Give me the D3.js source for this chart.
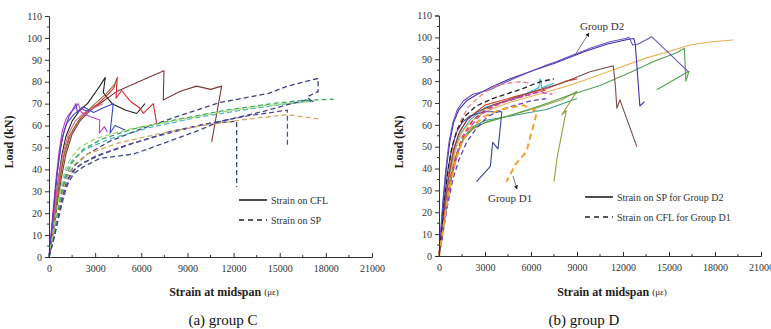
<!DOCTYPE html>
<html>
<head>
<meta charset="utf-8">
<script src="https://cdn.jsdelivr.net/npm/d3@7"></script>
<style>
  body { margin: 0; background: #fff; }
  svg { display: block; }
  svg text { font-family: "Liberation Serif", "Times New Roman", "DejaVu Serif", serif !important; }
</style>
</head>
<body>
<svg id="chart" width="771" height="329"></svg>
<script>
// tick values (shared by both panels)
const xTicks = [0, 3000, 6000, 9000, 12000, 15000, 18000, 21000];
const yTicks = [0, 10, 20, 30, 40, 50, 60, 70, 80, 90, 100, 110];

// ---- group C : strain on CFL (solid) ----
const cBlack = [[0,0],[150,8],[350,20],[600,35],[850,47],[1100,55],[1500,62],[2000,67],[2500,70],[2900,74],[3100,76],[3300,78],[3660,82],[3530,75],[4100,70],[5000,67],[5700,65.5],[6240,70]];
const cRed = [[0,0],[200,9],[450,22],[700,35],[1000,47],[1400,56],[2000,63],[2600,67],[3200,70],[3800,74],[4200,77],[4440,82],[4355,72.5],[4725,76],[5300,71],[5900,68],[6130,65.6],[6780,70],[7000,61]];
const cBrown = [[0,0],[250,10],[500,22],[800,36],[1100,47],[1500,56],[2000,62],[2700,67],[3500,71],[4400,75.5],[5500,79],[6500,82],[7475,85],[7430,71.7],[8500,75.5],[9600,78],[10500,76.5],[11225,78],[10575,52.5]];
const cMagenta = [[0,0],[100,8],[250,20],[450,35],[650,48],[850,57],[1100,63],[1400,66],[1700,68],[1900,70],[2100,66],[2700,64],[3300,62.5],[3270,56.5],[3600,59.5],[3800,57]];
const cBlue = [[0,0],[150,10],[350,25],[600,42],[850,54],[1150,61],[1600,65],[2230,68.6],[2900,66],[3500,68],[4180,70],[3965,56.5],[4290,60],[4940,58]];
const cViolet = [[0,0],[120,8],[300,22],[500,37],[750,50],[1000,58],[1300,64],[1600,68],[1750,70],[1850,66],[2100,68],[2300,67],[2600,66.5]];
const cOlive = [[0,0],[180,9],[400,21],[650,34],[950,46],[1300,55],[1800,61],[2400,66],[3000,70],[3800,75],[4400,80]];
const cPink = [[0,0],[160,9],[380,22],[620,36],[900,47],[1250,56],[1700,62],[2300,66],[2900,68],[3500,70]];

// ---- group C : strain on SP (dashed) ----
const cSpNavyTop = [[0,0],[200,7],[450,17],[700,26],[950,33],[1250,38],[1700,42],[2500,47],[4000,53],[6000,58.5],[8500,64.5],[11100,70.5],[14300,74.7],[15500,78],[17500,81.5],[17500,75.5],[16800,73.2],[17100,70]];
const cSpNavyDrop = [[0,0],[250,7],[500,16],[800,26],[1100,34],[1500,39],[2200,43],[3500,47],[5500,52],[8000,57.5],[10500,61],[12200,62],[12200,32]];
const cSpPurple = [[0,0],[300,8],[600,18],[900,28],[1300,36],[1800,41],[3000,46],[5000,51],[7500,56],[10000,60.5],[13000,64.5],[15500,67],[15500,50]];
const cSpGreen = [[0,0],[250,8],[500,18],[800,29],[1100,37],[1500,43],[2200,49],[3500,54],[5500,58.5],[8500,63],[11500,67],[14500,70],[16500,71.5],[18500,72]];
const cSpLightGreen = [[0,0],[200,8],[450,19],[750,31],[1050,40],[1400,45],[2000,50],[3000,54],[5000,58],[8000,62],[11000,66],[14000,69],[17000,71]];
const cSpCyan = [[0,0],[220,8],[480,19],[780,30],[1100,39],[1500,44],[2300,49],[4000,54],[6500,59],[9500,63.5],[12500,67],[15500,70],[17000,71]];
const cSpOrange = [[0,0],[250,8],[500,18],[800,28],[1150,36],[1600,42],[2500,47],[4500,52],[7000,56],[10000,60],[13000,63],[15500,65],[17500,63]];
const cSpNavyLow = [[0,0],[300,8],[600,17],[900,26],[1200,33],[1600,38],[2200,41],[3300,45],[5500,47],[7500,52],[9800,58],[11100,61.8],[13900,66.4],[15450,69.4],[16900,72],[17300,70.5]];

// ---- group D2 : strain on SP (solid) ----
const dPurple = [[0,0],[100,10],[250,25],[450,40],[650,52],[900,61],[1200,67],[1600,71],[2200,74],[3325,76],[4410,79.7],[5500,83],[7020,87.4],[7670,88.9],[9850,95],[11150,98],[12240,99.6],[12400,100],[12630,96.5],[13000,97],[13870,100.3],[16250,84.3]];
const dIndigo = [[0,0],[120,10],[280,25],[480,40],[700,52],[950,61],[1300,67],[1800,71],[2500,74],[3500,77.5],[4600,81],[6000,84.5],[7500,88],[9500,93.5],[11000,97],[12300,99],[12700,99.5],[12800,97],[13100,68.6],[13400,70.6]];
const dNavy = [[0,0],[150,10],[350,25],[550,38],[800,48],[1100,56],[1500,61],[2000,64],[3000,66],[4100,66],[3850,49],[3500,52],[3350,41],[2450,34]];
const dBrown = [[0,0],[180,10],[400,24],[650,37],[950,48],[1300,56],[1800,62],[2500,66],[3500,69],[5000,72.5],[6500,76],[8000,79],[9850,84.3],[11370,87],[11500,78],[11600,67.6],[11800,71.4],[12900,50]];
const dOrange = [[0,0],[200,10],[450,24],[750,38],[1050,48],[1450,56],[2000,61],[3000,66],[4500,70],[6500,74],[8500,78],[9850,81.3],[11500,85.5],[13500,90.5],[15000,93.5],[16370,96.5],[17800,98],[19190,98.8]];
const dGreen = [[0,0],[220,10],[500,24],[800,36],[1150,46],[1600,54],[2200,58.5],[3000,61],[4500,64],[6500,68.5],[8500,73.5],[10500,78],[12500,84],[14000,89],[15500,93],[16000,95],[16100,80],[16300,84.5],[14200,76]];
const dOlive = [[0,0],[200,10],[450,23],[750,36],[1100,46],[1550,53],[2200,58],[3000,61],[4500,64],[6500,68],[8000,71.5],[8980,75.2],[8000,64.5],[8300,66.5],[7700,45],[7500,34]];
const dTeal = [[0,0],[230,10],[520,24],[850,37],[1200,47],[1700,55],[2300,59.5],[3000,62],[5000,64.5],[7000,67],[9000,72]];
const dCyan = [[0,0],[190,10],[430,24],[700,37],[1000,47],[1400,56],[2000,62],[3000,68],[5000,72],[6500,77],[6600,81],[6700,77],[7500,79]];
const dRed = [[0,0],[170,10],[400,25],[650,38],[950,49],[1350,57],[1900,63],[3000,69],[5000,73],[7000,76.5],[8300,80],[9000,81]];

// ---- group D1 : strain on CFL (dashed) ----
const d1Black = [[0,0],[150,10],[350,25],[600,40],[850,50],[1200,58],[1700,64],[2400,68.5],[3500,72],[4800,75],[5500,76.7],[6590,79.7],[7500,81]];
const d1Salmon = [[0,0],[160,10],[380,25],[650,40],[950,52],[1350,61],[1900,68],[2500,72],[3000,75],[3800,78],[4500,79],[5280,79.7],[6000,79]];
const d1Magenta = [[0,0],[220,10],[500,24],[850,37],[1250,48],[1700,56],[2500,63],[3200,67],[4000,70],[5500,73],[6500,75],[7400,74]];
const d1Orange = [[0,0],[200,9],[450,21],[750,33],[1100,44],[1500,52],[2100,59],[3000,64],[4000,67],[5500,69],[6400,66],[5700,47.7],[5000,42],[4400,34]];
const d1Purple = [[0,0],[250,10],[550,23],[900,35],[1300,44],[1800,52],[2400,58],[3200,64],[4500,68],[6000,71],[7000,72]];
const d1Red = [[0,0],[200,10],[450,23],[750,36],[1100,46],[1550,55],[2200,62],[3000,67],[4500,71],[6000,74],[7000,76]];

const seriesC = [
  {pts: cBrown, color: "#7a3a36"}, {pts: cBlack, color: "#222"}, {pts: cRed, color: "#d82828"},
  {pts: cOlive, color: "#8a7a3a"}, {pts: cPink, color: "#d86a8a"}, {pts: cMagenta, color: "#c63cd2"},
  {pts: cBlue, color: "#3848c8"}, {pts: cViolet, color: "#6a3ab8"},
  {pts: cSpNavyTop, color: "#3c4080", dash: true}, {pts: cSpNavyDrop, color: "#3a4a86", dash: true},
  {pts: cSpPurple, color: "#5a4a9a", dash: true}, {pts: cSpOrange, color: "#d8a860", dash: true},
  {pts: cSpCyan, color: "#50b8c8", dash: true}, {pts: cSpGreen, color: "#40a860", dash: true},
  {pts: cSpLightGreen, color: "#a0d870", dash: true}, {pts: cSpNavyLow, color: "#404888", dash: true}
];

const seriesD = [
  {pts: dTeal, color: "#3a9a7a"}, {pts: dOlive, color: "#9aa040"}, {pts: dGreen, color: "#50a050"},
  {pts: dCyan, color: "#30b0e0"}, {pts: dRed, color: "#e04030"}, {pts: dOrange, color: "#e8b050"},
  {pts: dBrown, color: "#7a4a4a"}, {pts: dNavy, color: "#3a4890"},
  {pts: dIndigo, color: "#4030b0"}, {pts: dPurple, color: "#7050c0"},
  {pts: d1Purple, color: "#6040c0", dash: true}, {pts: d1Red, color: "#e03838", dash: true},
  {pts: d1Magenta, color: "#d040c0", dash: true}, {pts: d1Salmon, color: "#f08080", dash: true},
  {pts: d1Black, color: "#222", dash: true}, {pts: d1Orange, color: "#f0a030", dash: true, thick: true}
];

const svg = d3.select("#chart");

function drawPanel(o) {
  const x = d3.scaleLinear().domain([0, 21000]).range([o.x0, o.x1]);
  const y = d3.scaleLinear().domain([0, 110]).range([o.y0, o.y1]);
  const g = svg.append("g");

  const line = d3.line().x(d => x(d[0])).y(d => y(d[1]));
  g.selectAll("path.s").data(o.series).enter().append("path")
    .attr("class", "s")
    .attr("d", d => line(d.pts))
    .attr("fill", "none")
    .attr("stroke", d => d.color)
    .attr("stroke-width", d => d.thick ? 2 : (d.dash ? 1.3 : 1.1))
    .attr("stroke-dasharray", d => d.dash ? (d.thick ? "6,4" : "5,3") : null)
    .attr("stroke-linejoin", "round");

  // y axis, minor ticks every 5
  const yAx = g.append("g").attr("transform", `translate(${o.x0},0)`)
    .call(d3.axisLeft(y).tickValues(yTicks).tickSize(4).tickPadding(3));
  yAx.append("g").selectAll("line").data(d3.range(5, 110, 10)).enter().append("line")
    .attr("x1", -2).attr("x2", 0).attr("y1", d => y(d)).attr("y2", d => y(d)).attr("stroke", "#333");

  const xAx = g.append("g").attr("transform", `translate(0,${o.y0})`)
    .call(d3.axisBottom(x).tickValues(xTicks).tickFormat(d3.format("d")).tickSize(-4).tickPadding(8));
  xAx.append("g").selectAll("line").data(d3.range(1500, 21000, 3000)).enter().append("line")
    .attr("x1", d => x(d)).attr("x2", d => x(d)).attr("y1", -2).attr("y2", 0).attr("stroke", "#333");

  [yAx, xAx].forEach(a => {
    a.select(".domain").attr("stroke", "#333");
    a.selectAll(".tick line").attr("stroke", "#333");
    a.selectAll("text").attr("font-size", 10).attr("fill", "#333");
  });

  // axis titles
  g.append("text")
    .attr("transform", `translate(${o.x0 - 36},${o.yTitle}) rotate(-90)`)
    .attr("text-anchor", "middle").attr("font-size", 12).attr("font-weight", "bold").attr("fill", "#222")
    .text("Load (kN)");
  const xt = g.append("text").attr("x", o.xTitle).attr("y", 296)
    .attr("text-anchor", "middle").attr("font-size", 12).attr("font-weight", "bold").attr("fill", "#222");
  xt.append("tspan").text("Strain at midspan ");
  xt.append("tspan").attr("font-weight", "normal").attr("font-size", 9).attr("dy", -1).text("(με)");

  g.append("text").attr("x", o.capX).attr("y", 325).attr("text-anchor", "middle")
    .attr("font-size", 15).attr("fill", "#111").text(o.caption);

  // legend
  o.legend.forEach((t, i) => {
    const ly = o.legY + i * 20;
    g.append("line").attr("x1", o.legX).attr("x2", o.legX + 28).attr("y1", ly).attr("y2", ly)
      .attr("stroke", "#222").attr("stroke-width", 1.6)
      .attr("stroke-dasharray", i === 1 ? "5,4" : null);
    g.append("text").attr("x", o.legX + 32).attr("y", ly + 3.5)
      .attr("font-size", 10).attr("fill", "#333").text(t);
  });
  return {x, y, g};
}

drawPanel({
  x0: 49, x1: 372, y0: 257, y1: 16, series: seriesC,
  yTitle: 142, xTitle: 224, capX: 223, caption: "(a) group C",
  legX: 239, legY: 200, legend: ["Strain on CFL", "Strain on SP"]
});

const pD = drawPanel({
  x0: 439, x1: 761, y0: 256, y1: 15.5, series: seriesD,
  yTitle: 142, xTitle: 612, capX: 584, caption: "(b) group D",
  legX: 585, legY: 197, legend: ["Strain on SP for Group D2", "Strain on CFL for Group D1"]
});

// annotations in panel (b)
const defs = svg.append("defs");
defs.append("marker").attr("id", "ah").attr("viewBox", "0 0 10 10").attr("refX", 9).attr("refY", 5)
  .attr("markerWidth", 5).attr("markerHeight", 5).attr("orient", "auto")
  .append("path").attr("d", "M0,0L10,5L0,10z").attr("fill", "#222");

pD.g.append("text").attr("x", 580).attr("y", 30).attr("font-size", 11).attr("fill", "#333").text("Group D2");
pD.g.append("line").attr("x1", 575).attr("y1", 55).attr("x2", 589).attr("y2", 33)
  .attr("stroke", "#555").attr("stroke-width", 0.8).attr("marker-end", "url(#ah)");

pD.g.append("text").attr("x", 488).attr("y", 202).attr("font-size", 11).attr("fill", "#333").text("Group D1");
pD.g.append("line").attr("x1", 513).attr("y1", 176).attr("x2", 517).attr("y2", 189)
  .attr("stroke", "#555").attr("stroke-width", 0.8).attr("marker-end", "url(#ah)");
</script>
</body>
</html>
